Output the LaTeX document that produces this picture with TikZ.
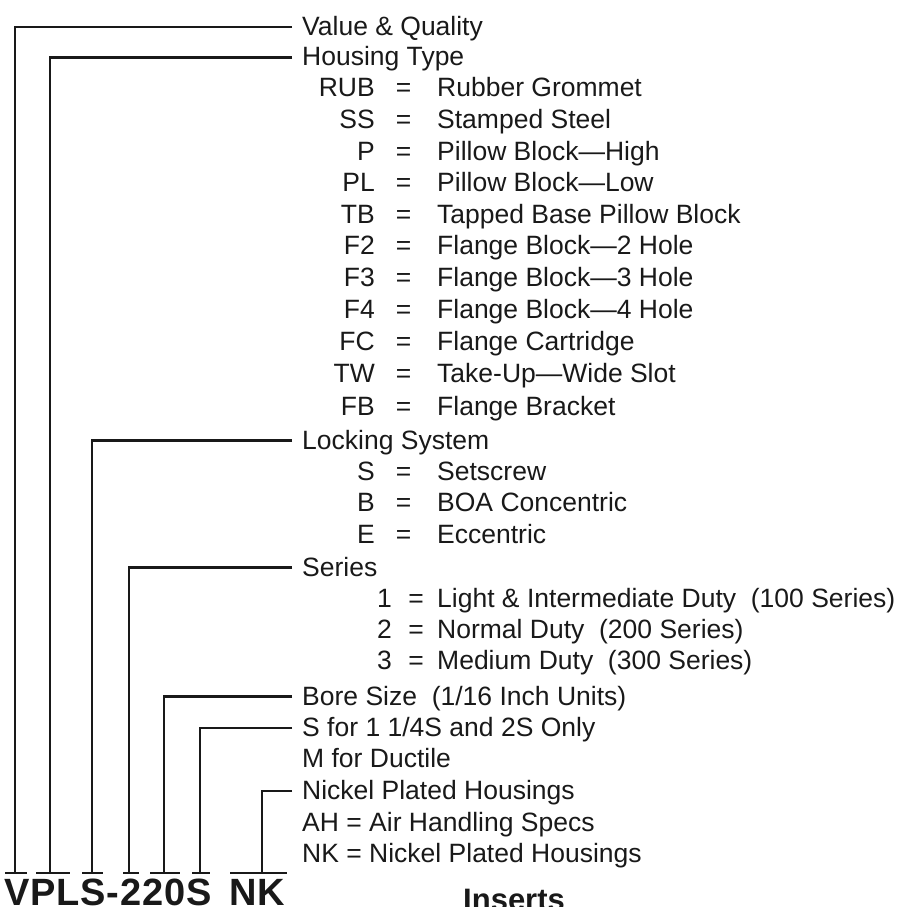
\documentclass[tikz,border=0pt]{standalone}
\usepackage{fontspec}
\setmainfont{Liberation Sans}
\newfontfamily\modelfont[LetterSpace=2.0]{Liberation Sans}
\tikzset{
  lbl/.style={inner sep=0pt, text height=17pt, text depth=0pt, font=\fontsize{26.5}{30}\selectfont, text=black!90},
  big/.style={inner sep=0pt, anchor=base west, font=\fontsize{38}{40}\modelfont\bfseries, text=black!90},
  conn/.style={line width=2.2pt, draw=black!90},
  bar/.style={line width=2.6pt, draw=black!90}
}
\begin{document}
\begin{tikzpicture}[x=1pt,y=-1pt]
\useasboundingbox (0,0) rectangle (898,907);
% main labels
\node[lbl, anchor=west] (valq) at (302,27.3) {Value \& Quality};
\node[lbl, anchor=west] (hous) at (302,57.5) {Housing Type};
\foreach \y/\c/\v in {88/RUB/Rubber Grommet, 119.5/SS/Stamped Steel, 151.5/P/Pillow Block—High, 183/PL/Pillow Block—Low, 214.5/TB/Tapped Base Pillow Block, 246/F2/Flange Block—2 Hole, 277.5/F3/Flange Block—3 Hole, 309.5/F4/Flange Block—4 Hole, 342/FC/Flange Cartridge, 374/TW/Take-Up—Wide Slot, 406.5/FB/Flange Bracket, 472/S/Setscrew, 503/B/BOA Concentric, 534.5/E/Eccentric} {
  \node[lbl, anchor=east] (c\y) at (375,\y) {\c};
  \node[lbl, anchor=center] (e\y) at (403.5,\y) {=};
  \node[lbl, anchor=west] (v\y) at (437,\y) {\v};
}
\node[lbl, anchor=west] (lock) at (302,440.5) {Locking System};
\node[lbl, anchor=west] (seri) at (302,567.5) {Series};
\foreach \y/\c/\v in {599/1/Light \& Intermediate Duty~ (100 Series), 630/2/Normal Duty~ (200 Series), 661/3/Medium Duty~ (300 Series)} {
  \node[lbl, anchor=east] (c\y) at (392,\y) {\c};
  \node[lbl, anchor=center] (e\y) at (416,\y) {=};
  \node[lbl, anchor=west] (v\y) at (437,\y) {\v};
}
\node[lbl, anchor=west] (bore) at (302,696.5) {Bore Size~ (1/16 Inch Units)};
\node[lbl, anchor=west] (sfor) at (302,728) {S for 1 1/4S and 2S Only};
\node[lbl, anchor=west] (mfor) at (302,759) {M for Ductile};
\node[lbl, anchor=west] (nick) at (302,791) {Nickel Plated Housings};
\node[lbl, anchor=west] (ah) at (302,822.5) {AH = Air Handling Specs};
\node[lbl, anchor=west] (nk) at (302,854) {NK = Nickel Plated Housings};
% model number
\node[big] (model) at (4.5,905.5) {VPLS-220S};
\node[big] (suffix) at (229.5,905.5) {NK};
\node[inner sep=0pt, anchor=base west, font=\fontsize{31}{34}\selectfont\bfseries, text=black!90] (ins) at (463,910.5) {Inserts};
% bars
\coordinate (kV) at (15,873);
\coordinate (kPL) at (50,873);
\coordinate (kS) at (92,873);
\coordinate (k2) at (129,873);
\coordinate (k20) at (164,873);
\coordinate (kS2) at (200,873);
\coordinate (kNK) at (262,873);
\draw[bar] (5,873) -- (27,873);
\draw[bar] (36,873) -- (70,873);
\draw[bar] (82,873) -- (103,873);
\draw[bar] (123,873) -- (139,873);
\draw[bar] (150,873) -- (180,873);
\draw[bar] (192,873) -- (210,873);
\draw[bar] (230,873) -- (287,873);
% connectors
\draw[conn] ([xshift=-10pt]valq.west) -| (kV);
\draw[conn] ([xshift=-10pt]hous.west) -| (kPL);
\draw[conn] ([xshift=-10pt]lock.west) -| (kS);
\draw[conn] ([xshift=-10pt]seri.west) -| (k2);
\draw[conn] ([xshift=-10pt]bore.west) -| (k20);
\draw[conn] ([xshift=-10pt]sfor.west) -| (kS2);
\draw[conn] ([xshift=-10pt]nick.west) -| (kNK);
\end{tikzpicture}
\end{document}
